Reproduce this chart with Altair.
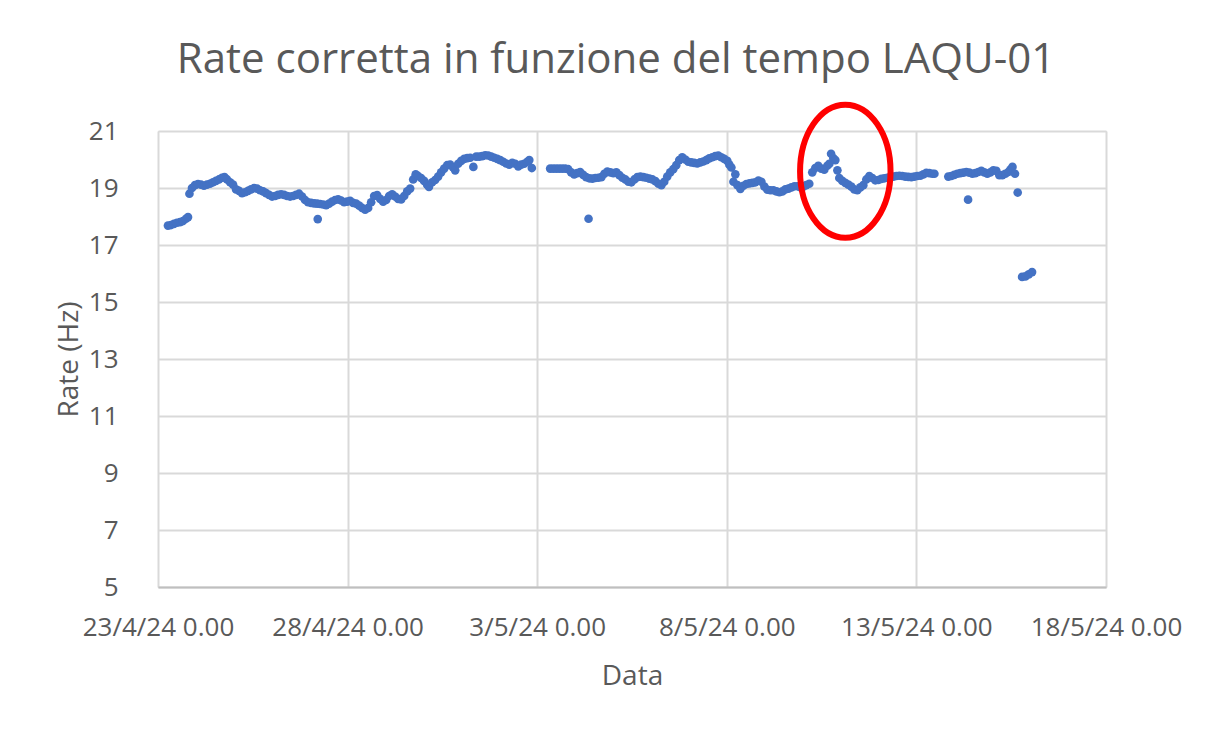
import altair as alt
import pandas as pd

# Readings (hours elapsed since 23/4/24 0.00, corrected rate in Hz).
# First run of data: 23/4 -> 3/5
hours_a = [
    6.3, 8.2, 10.1, 12.0, 13.9, 15.8, 17.7, 19.0, 19.9, 21.5,
    23.4, 25.3, 27.2, 29.1, 31.0, 32.9, 34.8, 36.7, 38.6, 40.5,
    42.1, 43.7, 45.6, 47.5, 49.4, 51.3, 53.2, 55.1, 57.0, 58.9,
    60.8, 62.7, 64.6, 66.5, 68.4, 70.3, 72.2, 74.1, 76.0, 77.9,
    79.8, 81.7, 83.6, 85.5, 87.4, 89.3, 91.2, 93.1, 95.0, 96.9,
    98.8, 100.7, 101.1, 102.6, 104.5, 106.4, 108.3, 110.2, 112.1, 114.0,
    115.9, 117.8, 119.7, 121.6, 123.5, 125.4, 127.3, 129.2, 131.1, 133.0,
    134.9, 136.8, 138.7, 140.6, 142.5, 144.4, 146.3, 148.2, 150.1, 152.0,
    153.9, 155.8, 157.7, 159.6, 161.5, 163.1, 164.6, 166.5, 168.4, 170.3,
    171.5, 173.5, 175.4, 177.3, 179.2, 181.1, 183.0, 184.9, 186.8, 188.1,
    190.0, 191.9, 193.8, 195.7, 197.6, 199.6, 201.4, 203.3, 205.2, 207.1,
    209.0, 210.9, 212.8, 214.7, 216.6, 218.5, 220.4, 222.3, 224.2, 226.1,
    228.0, 229.9, 231.8, 233.7, 235.0, 236.6,
]
rate_a = [
    17.68, 17.70, 17.74, 17.78, 17.80, 17.84, 17.92, 17.98, 18.80, 19.00,
    19.10, 19.14, 19.12, 19.08, 19.12, 19.15, 19.20, 19.25, 19.30, 19.36,
    19.38, 19.30, 19.20, 19.12, 18.95, 18.90, 18.82, 18.85, 18.90, 18.95,
    19.00, 18.98, 18.92, 18.88, 18.82, 18.76, 18.70, 18.72, 18.76, 18.78,
    18.76, 18.72, 18.70, 18.72, 18.76, 18.80, 18.70, 18.58, 18.50, 18.48,
    18.46, 18.45, 17.91, 18.44, 18.42, 18.40, 18.45, 18.52, 18.58, 18.60,
    18.56, 18.50, 18.52, 18.55, 18.48, 18.45, 18.38, 18.30, 18.24, 18.30,
    18.50, 18.72, 18.75, 18.62, 18.52, 18.58, 18.72, 18.78, 18.70, 18.62,
    18.60, 18.72, 18.88, 18.98, 19.30, 19.48, 19.42, 19.35, 19.25, 19.12,
    19.04, 19.20, 19.28, 19.40, 19.55, 19.68, 19.80, 19.82, 19.72, 19.62,
    19.85, 19.95, 20.02, 20.05, 20.06, 19.74, 20.10, 20.10, 20.12, 20.15,
    20.14, 20.10, 20.06, 20.02, 19.98, 19.92, 19.86, 19.82, 19.88, 19.85,
    19.76, 19.82, 19.85, 19.92, 19.98, 19.70,
]

# Second run of data: 3/5 -> 13/5
readings_b = [
    (248.2, 19.68), (250.1, 19.68), (252.0, 19.68), (253.9, 19.68), (255.8, 19.68),
    (257.7, 19.68), (259.6, 19.66), (261.5, 19.55), (263.4, 19.48), (265.3, 19.52),
    (267.2, 19.56), (269.1, 19.46), (271.0, 19.38), (272.5, 17.92), (273.0, 19.34),
    (274.9, 19.33), (276.8, 19.35), (278.7, 19.36), (280.6, 19.38), (282.5, 19.50),
    (284.4, 19.58), (286.3, 19.55), (288.2, 19.52), (290.1, 19.55), (292.0, 19.45),
    (293.9, 19.36), (295.8, 19.30), (297.7, 19.22), (299.6, 19.20), (301.5, 19.30),
    (303.4, 19.38), (305.3, 19.40), (307.2, 19.38), (309.1, 19.36), (311.0, 19.33),
    (312.9, 19.30), (314.8, 19.24), (316.7, 19.15), (318.6, 19.10), (320.4, 19.22),
    (322.3, 19.40), (324.2, 19.55), (326.1, 19.66), (328.0, 19.80), (329.9, 19.98),
    (331.8, 20.08), (333.7, 20.00), (335.6, 19.92), (337.5, 19.90), (339.4, 19.88),
    (341.3, 19.86), (343.2, 19.90), (345.1, 19.93), (347.0, 19.98), (348.9, 20.04),
    (350.8, 20.08), (352.7, 20.12), (354.6, 20.14), (356.5, 20.08), (358.4, 20.02),
    (360.3, 19.95), (361.6, 19.82), (362.9, 19.72), (364.2, 19.22), (365.4, 19.48),
    (366.7, 19.10), (368.6, 18.97), (370.5, 19.08), (372.4, 19.14), (374.3, 19.16),
    (376.2, 19.18), (378.1, 19.20), (380.0, 19.26), (381.9, 19.22), (383.8, 19.05),
    (385.7, 18.94), (387.6, 18.92), (389.5, 18.92), (391.4, 18.88), (393.3, 18.85),
    (395.2, 18.88), (397.1, 18.95), (399.0, 18.98), (400.9, 19.02), (402.8, 19.06),
    (404.7, 19.06), (406.5, 19.03), (408.4, 19.05), (410.3, 19.10), (412.2, 19.15),
    (414.1, 19.55), (416.0, 19.70), (417.9, 19.78), (419.8, 19.68), (421.7, 19.64),
    (423.6, 19.78), (424.9, 19.85), (426.0, 20.20), (427.4, 20.05), (428.7, 19.98),
    (430.0, 19.62), (431.2, 19.35), (433.1, 19.25), (435.0, 19.18), (436.9, 19.12),
    (438.8, 19.05), (440.7, 18.95), (442.6, 18.92), (444.5, 19.02), (446.4, 19.10),
    (448.3, 19.30), (450.2, 19.42), (452.1, 19.35), (454.0, 19.27), (455.9, 19.28),
    (457.8, 19.32), (459.7, 19.34), (461.6, 19.36), (463.5, 19.39), (465.4, 19.40),
    (467.3, 19.42), (469.2, 19.43), (471.1, 19.42), (473.0, 19.40), (474.9, 19.39),
    (476.8, 19.38), (478.7, 19.40), (480.6, 19.42), (482.5, 19.43), (484.4, 19.48),
    (486.3, 19.53), (488.2, 19.52), (490.1, 19.50), (491.4, 19.50),
]

# Third run of data: 13/5 -> 16/5
readings_c = [
    (500.2, 19.40), (502.1, 19.42), (504.0, 19.46), (505.9, 19.50), (507.8, 19.52),
    (509.7, 19.54), (511.6, 19.56), (512.7, 18.59), (513.5, 19.54), (515.4, 19.50),
    (517.3, 19.52), (519.2, 19.56), (521.1, 19.60), (523.0, 19.55), (524.9, 19.50),
    (526.8, 19.55), (528.7, 19.62), (530.6, 19.60), (532.5, 19.45), (534.4, 19.45),
    (536.3, 19.50), (538.2, 19.56), (539.5, 19.65), (540.8, 19.74), (542.4, 19.50),
    (544.1, 18.84), (546.9, 15.88), (549.0, 15.90), (551.1, 15.97), (553.2, 16.05),
]

# Red ellipse annotation around the 11/5 spike (centre, in data units)
highlight_hours = [435.0]
highlight_rate = [19.59]

x_ticks = ["2024-04-23", "2024-04-28", "2024-05-03", "2024-05-08", "2024-05-13", "2024-05-18"]
y_ticks = [5, 7, 9, 11, 13, 15, 17, 19, 21]

hours = list(hours_a) + [h for h, _ in readings_b] + [h for h, _ in readings_c]
rates = list(rate_a) + [r for _, r in readings_b] + [r for _, r in readings_c]
n = min(len(hours), len(rates))

start = pd.Timestamp("2024-04-23 00:00")
def stamp(h):
    return (start + pd.Timedelta(hours=h)).strftime("%Y-%m-%dT%H:%M:%S")

df = pd.DataFrame({"Data": [stamp(h) for h in hours[:n]], "Rate": rates[:n]})
df_hl = pd.DataFrame({"Data": [stamp(h) for h in highlight_hours], "Rate": highlight_rate})

def dt(s):
    y, m, d = s.split("-")
    return alt.DateTime(year=int(y), month=int(m), date=int(d))

FONT = "Open Sans"
TEXT = "#595959"
GRID = "#d9d9d9"

x_enc = alt.X(
    "Data:T",
    title="Data",
    scale=alt.Scale(domain=[dt(x_ticks[0]), dt(x_ticks[-1])], nice=False),
    axis=alt.Axis(
        values=[dt(s) for s in x_ticks],
        format="%-d/%-m/%y %-H.%M",
        labelFontSize=26,
        labelColor=TEXT,
        labelFont=FONT,
        labelPadding=27,
        labelFlush=False,
        labelOverlap=False,
        ticks=False,
        domainColor="#bfbfbf",
        domainWidth=2,
        gridColor=GRID,
        gridWidth=2,
        titleFont=FONT,
        titleFontSize=28,
        titleFontWeight="normal",
        titleColor=TEXT,
        titlePadding=22,
    ),
)
y_enc = alt.Y(
    "Rate:Q",
    title="Rate (Hz)",
    scale=alt.Scale(domain=[5, 21], nice=False, zero=False),
    axis=alt.Axis(
        values=y_ticks,
        labelFontSize=26,
        labelColor=TEXT,
        labelFont=FONT,
        labelPadding=40,
        ticks=False,
        domain=False,
        gridColor=GRID,
        gridWidth=2,
        titleFont=FONT,
        titleFontSize=28,
        titleFontWeight="normal",
        titleColor=TEXT,
        titlePadding=5,
    ),
)

points = alt.Chart(df).mark_circle(size=75, opacity=1, color="#4472C4").encode(x=x_enc, y=y_enc)

ellipse_path = "M -0.68 0 A 0.68 1 0 1 0 0.68 0 A 0.68 1 0 1 0 -0.68 0 Z"
ellipse = alt.Chart(df_hl).mark_point(
    shape=ellipse_path, size=17700, filled=False, stroke="#FF0000", strokeWidth=6, opacity=1
).encode(x="Data:T", y="Rate:Q")

chart = alt.layer(points, ellipse).properties(
    width=948,
    height=456,
    title=alt.TitleParams(
        "Rate corretta in funzione del tempo LAQU-01",
        font=FONT,
        fontSize=42,
        fontWeight="normal",
        color=TEXT,
        anchor="middle",
        frame="group",
        dx=-16,
        offset=11,
    ),
    autosize=alt.AutoSizeParams(type="none"),
    padding={"left": 150, "top": 123, "right": 100, "bottom": 110},
).configure_view(stroke=None).configure(background="white")

chart.save("out.html", embed_options={"renderer": "svg", "actions": False})
